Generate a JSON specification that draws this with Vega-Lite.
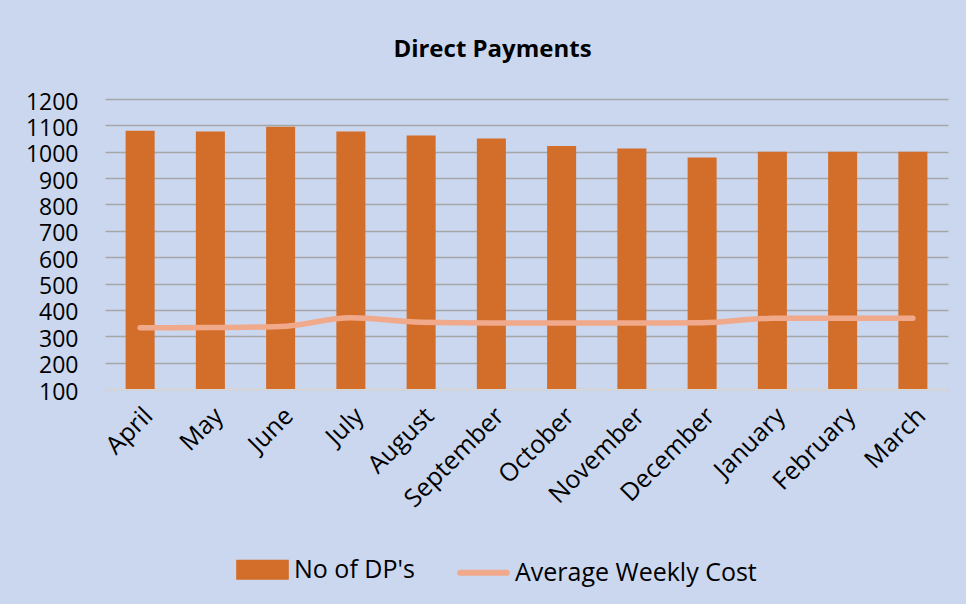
{
  "$schema": "https://vega.github.io/schema/vega-lite/v6.json",
  "width": 843,
  "height": 290,
  "autosize": "none",
  "padding": {"left": 105, "top": 99, "right": 18, "bottom": 215},
  "background": "#CAD7EF",
  "title": {
    "text": "Direct Payments",
    "font": "Open Sans",
    "fontSize": 24,
    "fontWeight": "bold",
    "color": "#000000",
    "anchor": "middle",
    "offset": 29,
    "dx": -34
  },
  "data": {
    "values": [
      {"month": "April", "dp": 1080, "cost": 332},
      {"month": "May", "dp": 1077, "cost": 333},
      {"month": "June", "dp": 1095, "cost": 337},
      {"month": "July", "dp": 1077, "cost": 370},
      {"month": "August", "dp": 1062, "cost": 353},
      {"month": "September", "dp": 1050, "cost": 350},
      {"month": "October", "dp": 1022, "cost": 350},
      {"month": "November", "dp": 1012, "cost": 350},
      {"month": "December", "dp": 978, "cost": 351},
      {"month": "January", "dp": 1000, "cost": 368},
      {"month": "February", "dp": 1000, "cost": 368},
      {"month": "March", "dp": 1000, "cost": 368}
    ]
  },
  "encoding": {
    "x": {
      "field": "month",
      "type": "nominal",
      "sort": null,
      "scale": {"paddingInner": 0.587, "paddingOuter": 0.2935},
      "axis": {
        "title": null,
        "labelAngle": -45,
        "labelAlign": "right",
        "labelBaseline": "top",
        "labelPadding": 14,
        "labelOffset": 0,
        "labelFont": "Open Sans",
        "labelFontSize": 25,
        "labelColor": "#000000",
        "labelOverlap": false,
        "labelLimit": 300,
        "ticks": false,
        "domain": true,
        "domainColor": "#D9D9D9",
        "domainWidth": 2
      }
    }
  },
  "layer": [
    {
      "mark": {"type": "bar"},
      "encoding": {
        "y": {
          "field": "dp",
          "type": "quantitative",
          "scale": {"domain": [100, 1200], "nice": false, "zero": false},
          "axis": {
            "title": null,
            "values": [100, 200, 300, 400, 500, 600, 700, 800, 900, 1000, 1100, 1200],
            "format": "d",
            "labelOverlap": false,
            "labelFont": "Open Sans",
            "labelFontSize": 23,
            "labelColor": "#000000",
            "labelPadding": 27,
            "labelOffset": 3,
            "ticks": false,
            "domain": false,
            "grid": true,
            "gridColor": "#A6A6A6",
            "gridWidth": 1.6
          }
        },
        "y2": {"datum": 100},
        "color": {
          "datum": "No of DP's",
          "scale": {"domain": ["No of DP's", "Average Weekly Cost"], "range": ["#D36D2A", "#F1A98C"]},
          "legend": {
            "orient": "none",
            "legendX": 131,
            "legendY": 444,
            "direction": "horizontal",
            "title": null,
            "padding": 0,
            "labelFont": "Open Sans",
            "labelFontSize": 25,
            "labelColor": "#000000",
            "labelLimit": 400,
            "labelOffset": 5,
            "columnPadding": 33,
            "symbolSize": 2173,
            "encode": {
              "symbols": {
                "update": {
                  "shape": {"signal": "datum.value === 'Average Weekly Cost' ? 'M-1,0H1' : 'M-1,-0.3H1V0.3H-1Z'"},
                  "fill": {"signal": "datum.value === 'Average Weekly Cost' ? 'transparent' : '#D36D2A'"},
                  "stroke": {"signal": "datum.value === 'Average Weekly Cost' ? '#F1A98C' : 'transparent'"},
                  "strokeWidth": {"value": 6},
                  "strokeCap": {"value": "round"},
                  "opacity": {"value": 1}
                }
              }
            }
          }
        }
      }
    },
    {
      "mark": {"type": "line", "interpolate": "monotone", "strokeWidth": 5.5, "strokeCap": "round"},
      "encoding": {
        "y": {
          "field": "cost",
          "type": "quantitative",
          "axis": {
            "title": null,
            "values": [100, 200, 300, 400, 500, 600, 700, 800, 900, 1000, 1100, 1200],
            "format": "d",
            "labelOverlap": false,
            "labelFont": "Open Sans",
            "labelFontSize": 23,
            "labelColor": "#000000",
            "labelPadding": 27,
            "labelOffset": 3,
            "ticks": false,
            "domain": false,
            "grid": true,
            "gridColor": "#A6A6A6",
            "gridWidth": 1.6
          }
        },
        "color": {"datum": "Average Weekly Cost"}
      }
    }
  ],
  "config": {
    "view": {"stroke": null},
    "font": "Open Sans"
  }
}
